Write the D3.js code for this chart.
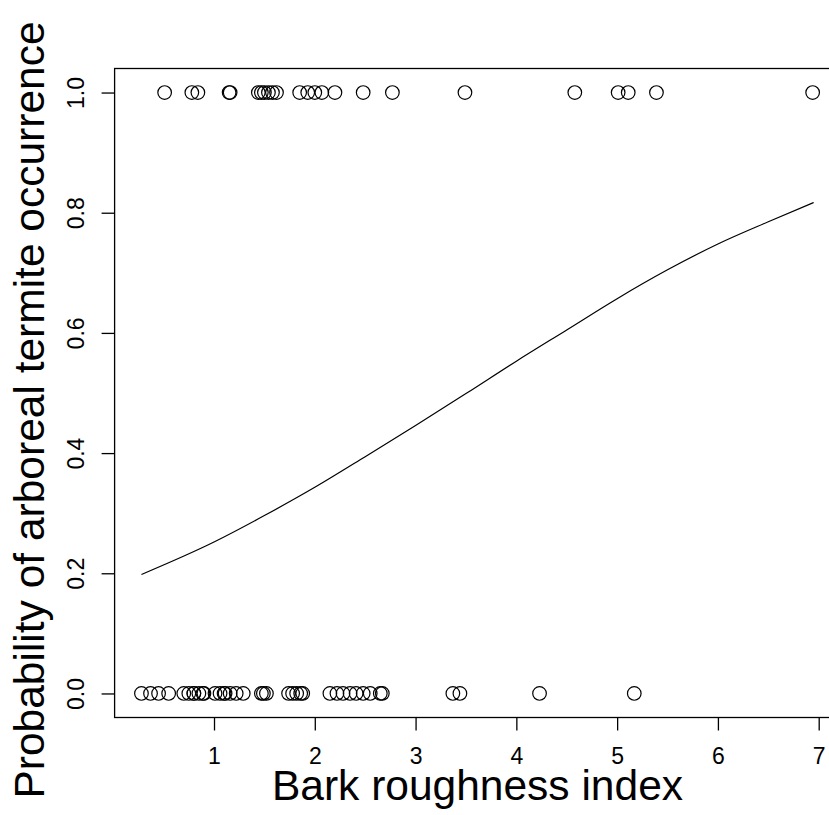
<!DOCTYPE html>
<html>
<head>
<meta charset="utf-8">
<script src="https://cdn.jsdelivr.net/npm/d3@7"></script>
<style>
  body { margin: 0; background: #fff; }
  text { font-family: "Liberation Sans", Arial, Helvetica, sans-serif; fill: #000; }
</style>
</head>
<body>
<div id="chart"></div>
<script>
// bark roughness of trees with termites present (y = 1)
const presentX = [0.51, 0.78, 0.84, 1.15, 1.16, 1.44, 1.47, 1.50, 1.54, 1.58, 1.62,
    1.85, 1.93, 2.00, 2.07, 2.20, 2.48, 2.77, 3.49, 4.58, 5.01, 5.11, 5.39, 6.94];

// bark roughness of trees without termites (y = 0)
const absentX = [0.28, 0.37, 0.45, 0.55, 0.70, 0.75, 0.80, 0.80, 0.85, 0.89, 0.90,
    1.01, 1.06, 1.10, 1.11, 1.16, 1.22, 1.29, 1.47, 1.49, 1.52, 1.74, 1.78, 1.82,
    1.86, 1.88, 2.15, 2.22, 2.28, 2.35, 2.41, 2.48, 2.55, 2.65, 2.67, 3.37, 3.44,
    4.23, 5.17];

// fitted probability curve
const curveX = [0.28, 1, 1.5, 2, 2.5, 3, 3.5, 4, 4.5, 5, 5.5, 6, 6.5, 6.95];
const curveP = [0.198, 0.252, 0.296, 0.343, 0.394, 0.446, 0.499, 0.553, 0.605, 0.657, 0.705, 0.748, 0.785, 0.817];

const xTicks = [1, 2, 3, 4, 5, 6, 7];
const yTicks = [0, 0.2, 0.4, 0.6, 0.8, 1.0];

const width = 829;
const height = 815;

const svg = d3.select('#chart')
    .append('svg')
    .attr('width', width)
    .attr('height', height);

// R style axis limits: data range stretched by 4% each side
const allX = presentX.concat(absentX);
const xMin = d3.min(allX), xMax = d3.max(allX);
const xPad = (xMax - xMin) * 0.04;

const x = d3.scaleLinear()
    .domain([xMin - xPad, xMax + xPad])
    .range([114.6, 839.5]);

const y = d3.scaleLinear()
    .domain([-0.04, 1.04])
    .range([717.5, 68.5]);

// plot box
svg.append('rect')
    .attr('x', x.range()[0])
    .attr('y', y.range()[1])
    .attr('width', x.range()[1] - x.range()[0])
    .attr('height', y.range()[0] - y.range()[1])
    .attr('fill', 'none')
    .attr('stroke', '#000')
    .attr('stroke-width', 1.3);

// x axis
const xAxis = svg.append('g')
    .attr('transform', `translate(0,${y.range()[0]})`)
    .call(d3.axisBottom(x).tickValues(xTicks).tickSize(13).tickFormat(d3.format('d')));
xAxis.select('.domain').remove();
xAxis.selectAll('line').attr('stroke-width', 1.3);
xAxis.selectAll('text')
    .style('font-size', '23px')
    .style('font-family', '"Liberation Sans", Arial, sans-serif')
    .attr('y', 46)
    .attr('dy', 0);

// y axis, labels turned like R's las = 0
const yAxis = svg.append('g')
    .attr('transform', `translate(${x.range()[0]},0)`)
    .call(d3.axisLeft(y).tickValues(yTicks).tickSize(13).tickFormat(d3.format('.1f')));
yAxis.select('.domain').remove();
yAxis.selectAll('line').attr('stroke-width', 1.3);
yAxis.selectAll('text')
    .style('font-size', '23px')
    .style('font-family', '"Liberation Sans", Arial, sans-serif')
    .attr('text-anchor', 'middle')
    .attr('dy', 0)
    .attr('x', 0)
    .attr('transform', 'translate(-31,0) rotate(-90)');

// fitted curve
const line = d3.line()
    .x((d, i) => x(curveX[i]))
    .y(d => y(d))
    .curve(d3.curveMonotoneX);

svg.append('path')
    .datum(curveP)
    .attr('d', line)
    .attr('fill', 'none')
    .attr('stroke', '#000')
    .attr('stroke-width', 1.2);

// observations
const pointGroup = svg.append('g').attr('class', 'points');
const points = presentX.map(v => ({ x: v, y: 1 }))
    .concat(absentX.map(v => ({ x: v, y: 0 })));

pointGroup.selectAll('circle')
    .data(points)
    .enter()
    .append('circle')
    .attr('cx', d => x(d.x))
    .attr('cy', d => y(d.y))
    .attr('r', 6.8)
    .attr('fill', 'none')
    .attr('stroke', '#000')
    .attr('stroke-width', 1.2);

// axis titles
svg.append('text')
    .attr('x', 477.5)
    .attr('y', 800)
    .attr('text-anchor', 'middle')
    .style('font-size', '42.5px')
    .text('Bark roughness index');

svg.append('text')
    .attr('transform', 'translate(44,410) rotate(-90)')
    .attr('text-anchor', 'middle')
    .style('font-size', '42.5px')
    .text('Probability of arboreal termite occurrence');
</script>
</body>
</html>
